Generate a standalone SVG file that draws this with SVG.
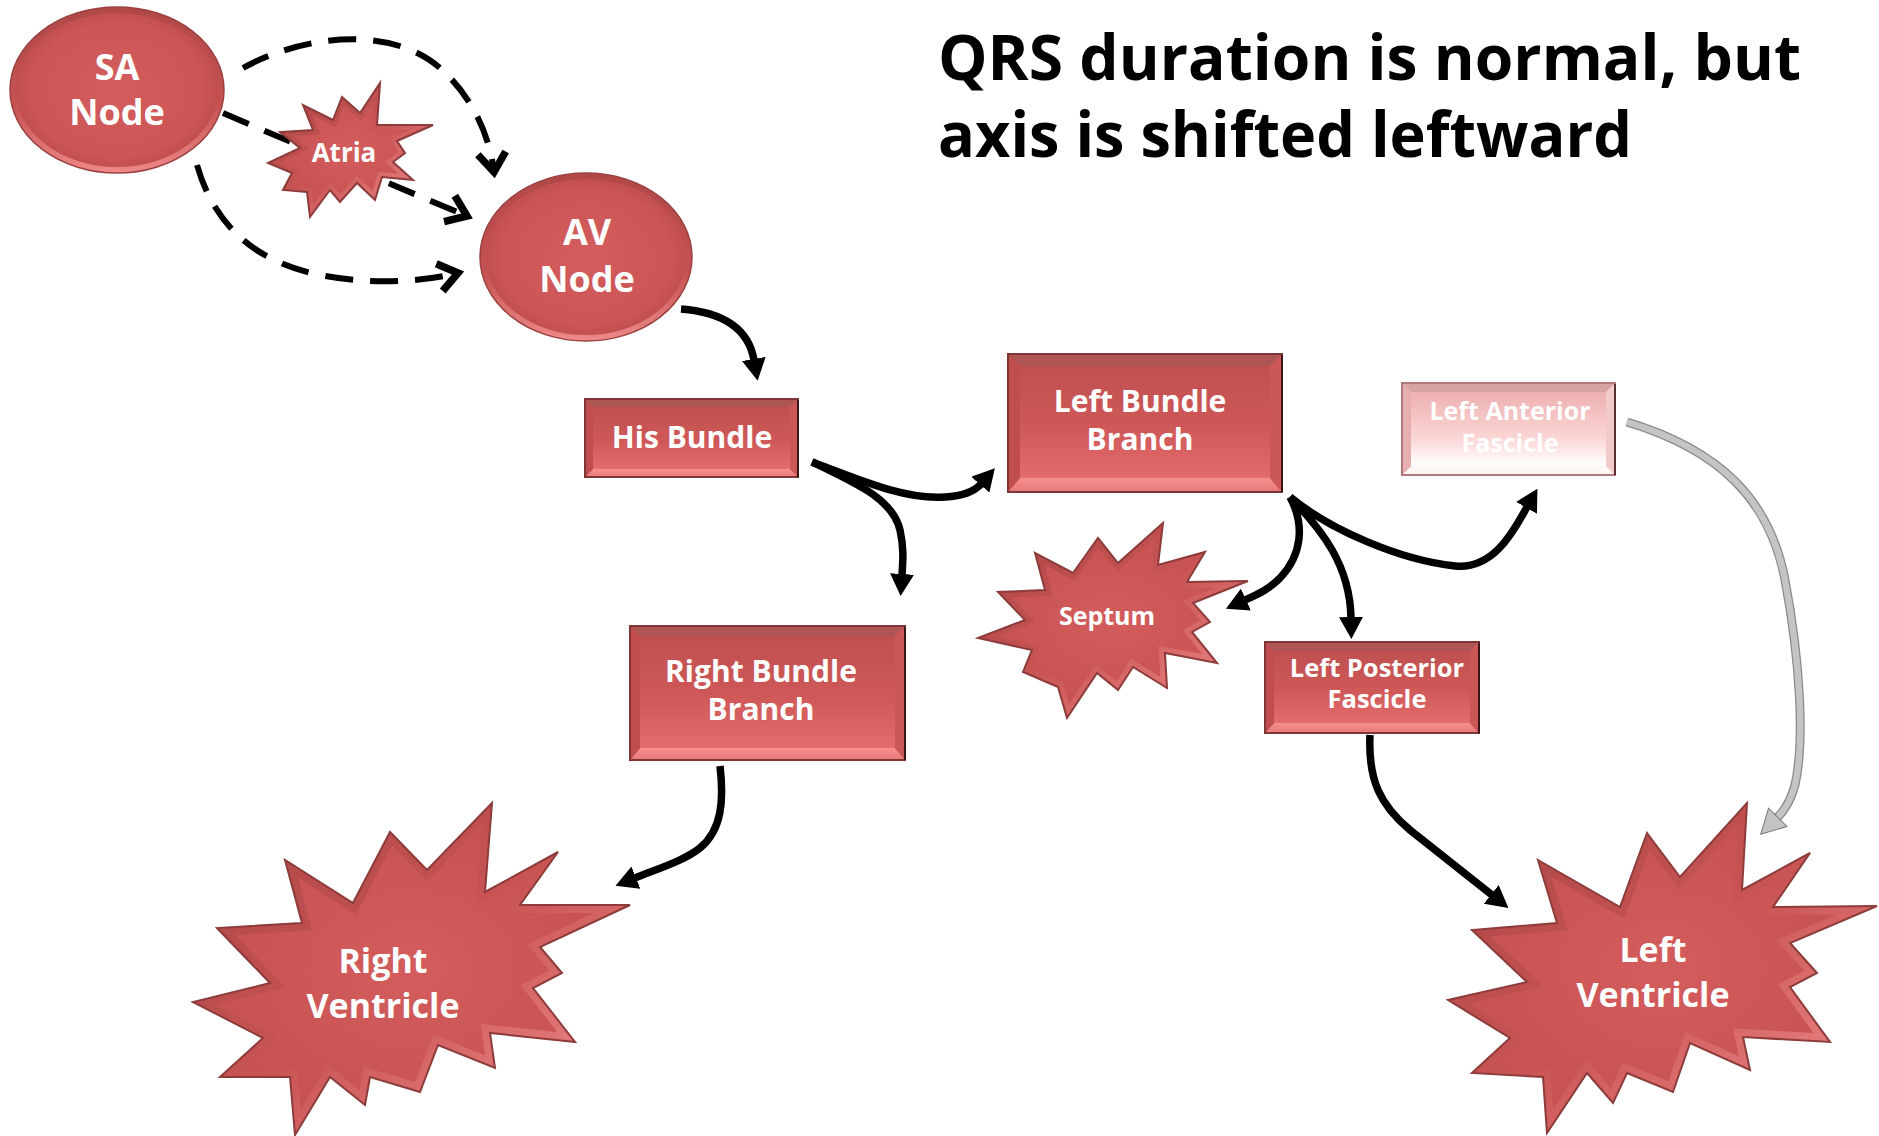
<svg xmlns="http://www.w3.org/2000/svg" xmlns:xlink="http://www.w3.org/1999/xlink" width="1879" height="1136" viewBox="0 0 1879 1136">
<style>
  .lbl { font-family: "Open Sans", "Liberation Sans", sans-serif; font-weight: 700; fill: #ffffff; text-anchor: middle; }
  .title { font-family: "Open Sans", "Liberation Sans", sans-serif; font-weight: 700; fill: #000000; font-size: 63px; }
  .conn { fill: none; stroke: #000000; stroke-width: 7.5; }
  .dash { fill: none; stroke: #000000; stroke-width: 6; stroke-dasharray: 28 17; }
  .starBody { fill: url(#starFill); }
  .starBevel { fill: none; stroke: url(#bevelG); stroke-width: 14; }
  .starEdge { fill: none; stroke: #8e3b3b; stroke-width: 2; stroke-linejoin: miter; }
  .rectEdge { fill: none; stroke: #7e3535; stroke-width: 2; }
</style>
<defs>
  <radialGradient id="starFill" cx="0.5" cy="0.5" r="0.55">
    <stop offset="0" stop-color="#d35c5c"/>
    <stop offset="1" stop-color="#c65050"/>
  </radialGradient>
  <linearGradient id="bevelG" x1="0" y1="0" x2="1" y2="1">
    <stop offset="0" stop-color="#a84545"/>
    <stop offset="0.5" stop-color="#c95454"/>
    <stop offset="1" stop-color="#f39191"/>
  </linearGradient>
  <radialGradient id="ovalFill" cx="0.5" cy="0.5" r="0.5">
    <stop offset="0" stop-color="#d35c5c"/>
    <stop offset="0.8" stop-color="#cc5656"/>
    <stop offset="1" stop-color="#bf4b4b"/>
  </radialGradient>
  <linearGradient id="ovalRim" x1="0" y1="0" x2="0" y2="1">
    <stop offset="0" stop-color="#b04848"/>
    <stop offset="0.6" stop-color="#c65252"/>
    <stop offset="1" stop-color="#ee8a8a"/>
  </linearGradient>
  <linearGradient id="faceRed" x1="0" y1="0" x2="0" y2="1">
    <stop offset="0" stop-color="#c05050"/>
    <stop offset="0.55" stop-color="#cf5858"/>
    <stop offset="1" stop-color="#e46c6c"/>
  </linearGradient>
  <linearGradient id="bottomRed" x1="0" y1="0" x2="0" y2="1">
    <stop offset="0" stop-color="#f59090"/>
    <stop offset="1" stop-color="#e97878"/>
  </linearGradient>
  <linearGradient id="facePale" x1="0" y1="0" x2="0" y2="1">
    <stop offset="0" stop-color="#eeb0b0"/>
    <stop offset="0.6" stop-color="#fad4d4"/>
    <stop offset="1" stop-color="#ffffff"/>
  </linearGradient>

  <marker id="arrow" markerUnits="userSpaceOnUse" viewBox="0 0 22 24" markerWidth="22" markerHeight="24" refX="1" refY="12" orient="auto">
    <path d="M0,0 L22,12 L0,24 z" fill="#000000"/>
  </marker>
  <marker id="vee" markerUnits="userSpaceOnUse" viewBox="-28 -20 40 40" markerWidth="40" markerHeight="40" refX="0" refY="0" orient="auto">
    <path d="M-19,-14 L0,0 L-19,14" fill="none" stroke="#000000" stroke-width="7.5"/>
  </marker>
  <marker id="grayArrow" markerUnits="userSpaceOnUse" viewBox="-1 -1 26 28" markerWidth="26" markerHeight="28" refX="1" refY="13" orient="auto">
    <path d="M0,0 L24,13 L0,26 z" fill="#c4c4c4" stroke="#777777" stroke-width="1"/>
  </marker>

  <!-- burst outlines -->
  <polygon id="shapeAtria" points="380,83 377,125 433,125 397,141 405,153 393,162 413,180 382,177 375,200 357,183 340,202 330,190 310,217 307,192 283,190 292,173 268,163 300,148 280,132 313,130 303,105 333,120 342,97 360,113"/>
  <polygon id="shapeSeptum" points="1163,523 1158,565 1205,552 1187,582 1248,581 1193,603 1210,622 1192,632 1217,663 1165,653 1167,688 1133,667 1118,690 1097,673 1067,718 1058,687 1023,672 1032,650 978,638 1025,620 998,592 1045,590 1035,553 1073,573 1098,538 1118,563"/>
  <polygon id="shapeRV" points="492,803 485,892 558,852 520,905 630,905 540,947 562,973 533,988 575,1042 490,1033 495,1068 438,1045 420,1092 370,1077 365,1105 330,1077 295,1135 290,1077 220,1077 263,1038 193,1002 270,983 217,928 302,923 285,860 353,903 390,832 427,870"/>
  <polygon id="shapeLV" points="1747,803 1742,890 1810,853 1773,907 1877,906 1790,943 1817,973 1790,987 1830,1042 1743,1037 1750,1070 1690,1043 1673,1092 1627,1073 1613,1103 1587,1073 1547,1133 1543,1077 1472,1073 1510,1038 1448,1000 1527,982 1472,930 1557,923 1538,860 1620,907 1647,833 1680,877"/>

  <clipPath id="clipAtria"><use xlink:href="#shapeAtria"/></clipPath>
  <clipPath id="clipSeptum"><use xlink:href="#shapeSeptum"/></clipPath>
  <clipPath id="clipRV"><use xlink:href="#shapeRV"/></clipPath>
  <clipPath id="clipLV"><use xlink:href="#shapeLV"/></clipPath>
  <clipPath id="clipSA"><ellipse cx="117" cy="90" rx="107" ry="83"/></clipPath>
  <clipPath id="clipAV"><ellipse cx="586" cy="257" rx="106" ry="84"/></clipPath>
</defs>

<rect width="1879" height="1136" fill="#ffffff"/>

<!-- connectors -->
<g id="connectors">
  <path class="dash" d="M243,68 C300,36 390,24 440,68 C474,98 490,138 494,172" marker-end="url(#vee)"/>
  <path class="dash" d="M223,113 C300,146 390,184 467,216" marker-end="url(#vee)"/>
  <path class="dash" d="M197,165 C214,225 255,262 320,275 C372,285 420,282 458,273" marker-end="url(#vee)"/>
  <path class="conn" d="M681,309 C720,312 748,326 754,360" marker-end="url(#arrow)"/>
  <path class="conn" d="M812,462 C860,480 905,500 945,497 C962,496 974,492 981,484" marker-end="url(#arrow)"/>
  <path class="conn" d="M812,462 C860,485 893,500 900,530 C904,548 903,560 902,575" marker-end="url(#arrow)"/>
  <path class="conn" d="M1290,497 C1305,525 1302,555 1280,578 C1268,590 1258,594 1245,600" marker-end="url(#arrow)"/>
  <path class="conn" d="M1290,497 C1322,530 1350,565 1351,618" marker-end="url(#arrow)"/>
  <path class="conn" d="M1290,497 C1330,530 1400,560 1455,566 C1495,570 1515,528 1527,507" marker-end="url(#arrow)"/>
  <path class="conn" d="M720,766 C724,800 722,830 700,848 C685,860 660,868 635,878" marker-end="url(#arrow)"/>
  <path class="conn" d="M1370,735 C1368,780 1380,805 1410,830 L1492,895" marker-end="url(#arrow)"/>
  <path d="M1627,422 C1720,450 1770,500 1785,580 C1800,660 1805,740 1795,785 C1791,800 1785,810 1777,818" fill="none" stroke="#8a8a8a" stroke-width="9"/>
  <path d="M1627,422 C1720,450 1770,500 1785,580 C1800,660 1805,740 1795,785 C1791,800 1785,810 1777,818" fill="none" stroke="#c4c4c4" stroke-width="6.5" marker-end="url(#grayArrow)"/>
</g>

<!-- SA node -->
<g id="sa-node">
  <ellipse cx="117" cy="90" rx="107" ry="83" fill="url(#ovalFill)"/>
  <ellipse cx="117" cy="90" rx="107" ry="83" fill="none" stroke="url(#ovalRim)" stroke-width="12" clip-path="url(#clipSA)"/>
  <ellipse cx="117" cy="90" rx="107" ry="83" fill="none" stroke="#9c4242" stroke-width="1.5"/>
  <text class="lbl" x="117" y="80" font-size="36">SA</text>
  <text class="lbl" x="117" y="125" font-size="36">Node</text>
</g>

<!-- Atria -->
<g id="atria">
  <use xlink:href="#shapeAtria" class="starBody"/>
  <use xlink:href="#shapeAtria" class="starBevel" style="stroke-width:10" clip-path="url(#clipAtria)"/>
  <use xlink:href="#shapeAtria" class="starEdge"/>
  <text class="lbl" x="344" y="162" font-size="26">Atria</text>
</g>

<!-- AV node -->
<g id="av-node">
  <ellipse cx="586" cy="257" rx="106" ry="84" fill="url(#ovalFill)"/>
  <ellipse cx="586" cy="257" rx="106" ry="84" fill="none" stroke="url(#ovalRim)" stroke-width="12" clip-path="url(#clipAV)"/>
  <ellipse cx="586" cy="257" rx="106" ry="84" fill="none" stroke="#9c4242" stroke-width="1.5"/>
  <text class="lbl" x="587" y="245" font-size="36">AV</text>
  <text class="lbl" x="587" y="292" font-size="36">Node</text>
</g>

<!-- His bundle: x585 y399 w213 h78 bevel 8 -->
<g id="his-bundle">
  <rect x="585" y="399" width="213" height="78" fill="#c85252"/>
  <polygon points="585,399 798,399 790,407 593,407" fill="#ae5656"/>
  <polygon points="585,477 798,477 790,469 593,469" fill="url(#bottomRed)"/>
  <polygon points="585,399 593,407 593,469 585,477" fill="#c04e4e"/>
  <polygon points="798,399 790,407 790,469 798,477" fill="#cc5757"/>
  <rect x="593" y="407" width="197" height="62" fill="url(#faceRed)"/>
  <rect class="rectEdge" x="585" y="399" width="213" height="78"/>
  <line x1="798" y1="400" x2="798" y2="477" stroke="#3a1515" stroke-width="2"/>
  <text class="lbl" x="692" y="448" font-size="30">His Bundle</text>
</g>

<!-- Left bundle branch: x1008 y354 w274 h138 bevel 12 -->
<g id="left-bundle-branch">
  <rect x="1008" y="354" width="274" height="138" fill="#c85252"/>
  <polygon points="1008,354 1282,354 1270,366 1020,366" fill="#ae5656"/>
  <polygon points="1008,492 1282,492 1270,478 1020,478" fill="url(#bottomRed)"/>
  <polygon points="1008,354 1020,366 1020,478 1008,492" fill="#c04e4e"/>
  <polygon points="1282,354 1270,366 1270,478 1282,492" fill="#cc5757"/>
  <rect x="1020" y="366" width="250" height="112" fill="url(#faceRed)"/>
  <rect class="rectEdge" x="1008" y="354" width="274" height="138"/>
  <line x1="1282" y1="355" x2="1282" y2="492" stroke="#3a1515" stroke-width="2"/>
  <text class="lbl" x="1140" y="412" font-size="30">Left Bundle</text>
  <text class="lbl" x="1140" y="450" font-size="30">Branch</text>
</g>

<!-- Left anterior fascicle (faded): x1402 y383 w213 h92 bevel 9 -->
<g id="left-anterior-fascicle">
  <rect x="1402" y="383" width="213" height="92" fill="#f0c0c0"/>
  <polygon points="1402,383 1615,383 1606,392 1411,392" fill="#d9a2a2"/>
  <polygon points="1402,475 1615,475 1606,466 1411,466" fill="#fff6f6"/>
  <polygon points="1402,383 1411,392 1411,466 1402,475" fill="#e6aeae"/>
  <polygon points="1615,383 1606,392 1606,466 1615,475" fill="#f2caca"/>
  <rect x="1411" y="392" width="195" height="74" fill="url(#facePale)"/>
  <rect x="1402" y="383" width="213" height="92" fill="none" stroke="#b07a7a" stroke-width="2"/>
  <line x1="1615" y1="384" x2="1615" y2="475" stroke="#5a3030" stroke-width="2"/>
  <text class="lbl" x="1510" y="420" font-size="25">Left Anterior</text>
  <text class="lbl" x="1510" y="452" font-size="25">Fascicle</text>
</g>

<!-- Septum -->
<g id="septum">
  <use xlink:href="#shapeSeptum" class="starBody"/>
  <use xlink:href="#shapeSeptum" class="starBevel" style="stroke-width:12" clip-path="url(#clipSeptum)"/>
  <use xlink:href="#shapeSeptum" class="starEdge"/>
  <text class="lbl" x="1107" y="625" font-size="25">Septum</text>
</g>

<!-- Right bundle branch: x630 y626 w275 h134 bevel 10 -->
<g id="right-bundle-branch">
  <rect x="630" y="626" width="275" height="134" fill="#c85252"/>
  <polygon points="630,626 905,626 895,636 640,636" fill="#ae5656"/>
  <polygon points="630,760 905,760 895,748 640,748" fill="url(#bottomRed)"/>
  <polygon points="630,626 640,636 640,748 630,760" fill="#c04e4e"/>
  <polygon points="905,626 895,636 895,748 905,760" fill="#cc5757"/>
  <rect x="640" y="636" width="255" height="112" fill="url(#faceRed)"/>
  <rect class="rectEdge" x="630" y="626" width="275" height="134"/>
  <line x1="905" y1="627" x2="905" y2="760" stroke="#3a1515" stroke-width="2"/>
  <text class="lbl" x="761" y="682" font-size="30">Right Bundle</text>
  <text class="lbl" x="761" y="720" font-size="30">Branch</text>
</g>

<!-- Left posterior fascicle: x1265 y642 w214 h91 bevel 9 -->
<g id="left-posterior-fascicle">
  <rect x="1265" y="642" width="214" height="91" fill="#c85252"/>
  <polygon points="1265,642 1479,642 1470,651 1274,651" fill="#ae5656"/>
  <polygon points="1265,733 1479,733 1470,723 1274,723" fill="url(#bottomRed)"/>
  <polygon points="1265,642 1274,651 1274,723 1265,733" fill="#c04e4e"/>
  <polygon points="1479,642 1470,651 1470,723 1479,733" fill="#cc5757"/>
  <rect x="1274" y="651" width="196" height="72" fill="url(#faceRed)"/>
  <rect class="rectEdge" x="1265" y="642" width="214" height="91"/>
  <line x1="1479" y1="643" x2="1479" y2="733" stroke="#3a1515" stroke-width="2"/>
  <text class="lbl" x="1377" y="677" font-size="25.5">Left Posterior</text>
  <text class="lbl" x="1377" y="708" font-size="25.5">Fascicle</text>
</g>

<!-- Right ventricle -->
<g id="right-ventricle">
  <use xlink:href="#shapeRV" class="starBody"/>
  <use xlink:href="#shapeRV" class="starBevel" style="stroke-width:16" clip-path="url(#clipRV)"/>
  <use xlink:href="#shapeRV" class="starEdge"/>
  <text class="lbl" x="383" y="973" font-size="34">Right</text>
  <text class="lbl" x="383" y="1018" font-size="34">Ventricle</text>
</g>

<!-- Left ventricle -->
<g id="left-ventricle">
  <use xlink:href="#shapeLV" class="starBody"/>
  <use xlink:href="#shapeLV" class="starBevel" style="stroke-width:16" clip-path="url(#clipLV)"/>
  <use xlink:href="#shapeLV" class="starEdge"/>
  <text class="lbl" x="1653" y="962" font-size="34">Left</text>
  <text class="lbl" x="1653" y="1007" font-size="34">Ventricle</text>
</g>

<!-- heading -->
<g id="heading">
  <text class="title" x="938" y="80" textLength="863" lengthAdjust="spacingAndGlyphs">QRS duration is normal, but</text>
  <text class="title" x="938" y="157" textLength="694" lengthAdjust="spacingAndGlyphs">axis is shifted leftward</text>
</g>
</svg>
